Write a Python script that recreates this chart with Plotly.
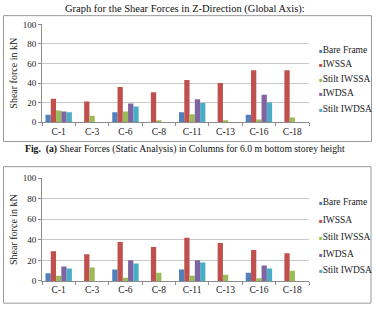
import plotly.graph_objects as go

categories = ["C-1", "C-3", "C-6", "C-8", "C-11", "C-13", "C-16", "C-18"]
series_names = ["Bare Frame", "IWSSA", "Stilt IWSSA", "IWDSA", "Stilt IWDSA"]
colors = ["#4F81BD", "#C0504D", "#9BBB59", "#8064A2", "#4BACC6"]

# Chart (a): static analysis, 6.0 m bottom storey
a_bare = [7.5, 0, 10, 0, 10, 0, 7.5, 0]
a_iwssa = [24, 21, 36, 30.5, 43, 40, 53, 53]
a_stilt_iwssa = [12, 6.5, 11, 2, 8, 1.8, 2.8, 4.8]
a_iwdsa = [11, 0, 19, 0, 23.5, 0, 28, 0]
a_stilt_iwdsa = [10, 0, 16, 0, 19.5, 0, 20, 0]

# Chart (b)
b_bare = [7.5, 0, 11, 0, 11, 0, 8, 0]
b_iwssa = [29, 26, 38, 33, 42, 37, 30, 27]
b_stilt_iwssa = [5, 13, 3, 8, 5, 6, 2.5, 10]
b_iwdsa = [14, 0, 20, 0, 20, 0, 15, 0]
b_stilt_iwdsa = [12, 0, 17, 0, 18, 0, 12, 0]

y_ticks = [0, 20, 40, 60, 80, 100]

W, H = 376, 313
FONT = "Liberation Serif"

def px_x(v):
    return v / W

def px_y(v):
    return 1 - v / H

fig = go.Figure()

sets = [
    ([a_bare, a_iwssa, a_stilt_iwssa, a_iwdsa, a_stilt_iwdsa], "x", "y"),
    ([b_bare, b_iwssa, b_stilt_iwssa, b_iwdsa, b_stilt_iwdsa], "x2", "y2"),
]
for data, xa, ya in sets:
    for name, vals, col in zip(series_names, data, colors):
        fig.add_trace(go.Bar(
            x=categories, y=vals, name=name, marker_color=col,
            marker_line_width=0, xaxis=xa, yaxis=ya, showlegend=False,
        ))

axis_x = dict(
    type="category", categoryorder="array", categoryarray=categories,
    showline=True, linecolor="#8c8c8c", linewidth=1,
    ticks="outside", tickson="boundaries", ticklen=3, tickcolor="#8c8c8c",
    tickfont=dict(family=FONT, size=9.5, color="#222"),
    showgrid=False, domain=[px_x(42), px_x(309)],
)
axis_y = dict(
    range=[0, 100], tickvals=y_ticks, showline=True, linecolor="#8c8c8c",
    linewidth=1, ticks="outside", ticklen=3, tickcolor="#8c8c8c",
    tickfont=dict(family=FONT, size=9, color="#222"),
    showgrid=True, gridcolor="#c8c8c8", gridwidth=1, zeroline=False,
    title=dict(text="Shear force in kN", font=dict(family=FONT, size=10, color="#222"), standoff=3),
)

fig.update_layout(
    width=W, height=H, margin=dict(l=0, r=0, t=0, b=0),
    paper_bgcolor="white", plot_bgcolor="white",
    font=dict(family=FONT),
    barmode="group", bargap=0.21, bargroupgap=0,
    xaxis=dict(axis_x, anchor="y"),
    yaxis=dict(axis_y, anchor="x", domain=[px_y(121), px_y(20)]),
    xaxis2=dict(axis_x, anchor="y2"),
    yaxis2=dict(axis_y, anchor="x2", domain=[px_y(285), px_y(179)]),
)

fig.add_shape(type="rect", xref="paper", yref="paper",
              x0=px_x(3.5), x1=px_x(371.5), y0=px_y(141), y1=px_y(11),
              line=dict(color="#9a9a9a", width=1))
fig.add_shape(type="rect", xref="paper", yref="paper",
              x0=px_x(3.5), x1=px_x(371), y0=px_y(308), y1=px_y(167),
              line=dict(color="#9a9a9a", width=1))

legend_rows = [
    ([46, 61, 76, 91, 107]),
    ([203, 222, 240, 257, 274]),
]
for rows in legend_rows:
    for name, col, yy in zip(series_names, colors, rows):
        fig.add_annotation(
            xref="paper", yref="paper", x=px_x(317), y=px_y(yy),
            xanchor="left", yanchor="middle", showarrow=False,
            text=f"<span style='color:{col};font-size:6px'>■</span>{name}",
            font=dict(family=FONT, size=9.5, color="#222"),
        )

fig.add_annotation(
    xref="paper", yref="paper", x=0.492, y=px_y(4.5), xanchor="center",
    yanchor="middle", showarrow=False,
    text="Graph for the Shear Forces in Z-Direction (Global Axis):",
    font=dict(family=FONT, size=10.5, color="#111"),
)
fig.add_annotation(
    xref="paper", yref="paper", x=0.492, y=px_y(149), xanchor="center",
    yanchor="middle", showarrow=False,
    text="<b>Fig.</b>  <b>(a)</b> Shear Forces (Static Analysis) in Columns for 6.0 m bottom storey height",
    font=dict(family=FONT, size=9.7, color="#111"),
)

fig.write_html("out.html")
